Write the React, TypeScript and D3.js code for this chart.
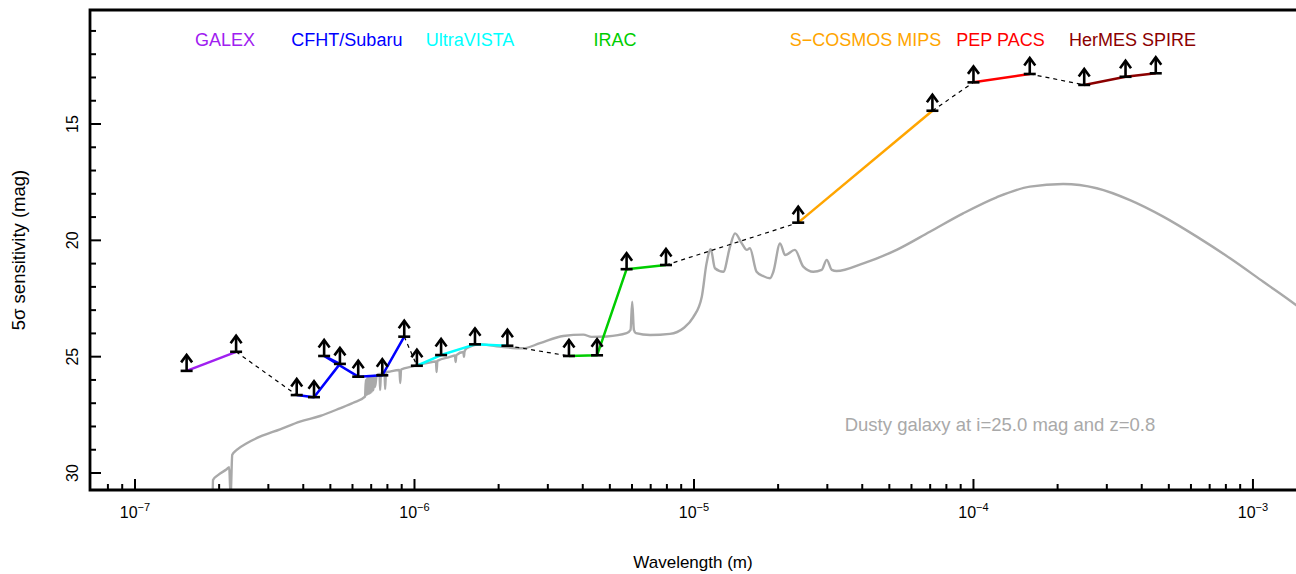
import React from "react";
import * as d3 from "d3";

// Photometric bands: wavelength (m) and 5-sigma limiting magnitude
const bandNames = [
  "FUV", "NUV",
  "u", "B", "V", "g", "r", "i", "z",
  "Y", "J", "H", "Ks",
  "ch1", "ch2", "ch3", "ch4",
  "MIPS24", "MIPS70",
  "PACS100", "PACS160",
  "SPIRE250", "SPIRE350", "SPIRE500",
];
const bandWavelengths = [
  1.53e-7, 2.3e-7,
  3.79e-7, 4.37e-7, 5.41e-7, 4.75e-7, 6.29e-7, 7.67e-7, 9.19e-7,
  1.02e-6, 1.245e-6, 1.646e-6, 2.15e-6,
  3.57e-6, 4.5e-6, 5.74e-6, 7.94e-6,
  2.36e-5, 7.13e-5,
  1.0e-4, 1.59e-4,
  2.49e-4, 3.5e-4, 4.49e-4,
];
const bandMags = [
  25.61, 24.79,
  26.65, 26.74, 25.31, 24.97, 25.86, 25.8, 24.14,
  25.39, 24.93, 24.47, 24.53,
  24.97, 24.94, 21.24, 21.06,
  19.24, 14.43,
  13.21, 12.85,
  13.32, 12.97, 12.82,
];
const bandSurvey = [0, 0, 1, 1, 1, 1, 1, 1, 1, 2, 2, 2, 2, 3, 3, 3, 3, 4, 4, 5, 5, 6, 6, 6];

const surveyNames = [
  "GALEX", "CFHT/Subaru", "UltraVISTA", "IRAC",
  "S\u2212COSMOS MIPS", "PEP PACS", "HerMES SPIRE",
];
const surveyColors = ["#a020f0", "#0000ff", "#00ffff", "#00cd00", "#ffa500", "#ff0000", "#8b0000"];
const surveyLabelWavelengths = [2.1e-7, 5.73e-7, 1.58e-6, 5.22e-6, 4.11e-5, 1.25e-4, 3.71e-4];

// Model SED of a dusty galaxy (log10 wavelength in m, magnitude)
const sedLogWavelength = [
  -6.722, -6.721, -6.702, -6.672, -6.663, -6.658, -6.652, -6.636, -6.6, -6.553,
  -6.481, -6.41, -6.338, -6.267, -6.219, -6.177,
  -6.174, -6.172, -6.17, -6.168, -6.166, -6.164, -6.162, -6.16, -6.158, -6.156,
  -6.154, -6.152, -6.15, -6.147, -6.144, -6.141, -6.135,
  -6.125, -6.123, -6.12, -6.107, -6.105,
  -6.102, -6.088, -6.054, -6.051, -6.048, -6.01, -5.956, -5.923, -5.921, -5.918,
  -5.873, -5.855, -5.853, -5.85, -5.825, -5.823, -5.821, -5.813, -5.766, -5.694,
  -5.611, -5.551, -5.468, -5.396, -5.366, -5.312, -5.241, -5.227, -5.221, -5.215,
  -5.208, -5.157, -5.086, -5.038, -5.003, -4.972, -4.955, -4.94, -4.925, -4.895,
  -4.871, -4.853, -4.829, -4.811, -4.8, -4.776, -4.753, -4.728, -4.716, -4.692,
  -4.674, -4.639, -4.609, -4.573, -4.543, -4.525, -4.507, -4.49, -4.394, -4.275,
  -4.156, -4.037, -3.917, -3.798, -3.679, -3.559, -3.44, -3.321, -3.201, -3.082,
  -2.963, -2.846, -2.796,
];
const sedMag = [
  31.0, 30.3, 30.08, 29.84, 29.75, 31.0, 29.22, 29.01, 28.72, 28.44,
  28.12, 27.79, 27.55, 27.22, 26.98, 26.72,
  26.0, 26.65, 25.92, 26.62, 25.9, 26.6, 25.88, 26.58, 25.87, 26.55,
  25.86, 26.5, 25.85, 26.45, 25.82, 26.3, 25.79,
  25.74, 26.43, 25.72, 25.7, 26.39,
  25.68, 25.64, 25.57, 26.13, 25.55, 25.43, 25.28, 25.21, 25.66, 25.18,
  25.01, 24.95, 25.23, 24.93, 24.8, 25.01, 24.78, 24.64, 24.47, 24.57,
  24.64, 24.42, 24.11, 24.05, 24.15, 24.13, 23.99, 23.85, 22.64, 23.85,
  23.99, 24.07, 24.02, 23.78, 23.31, 22.42, 20.99, 20.38, 21.2, 21.35,
  20.27, 19.7, 20.13, 20.41, 20.34, 21.35, 21.53, 21.63, 21.35, 20.13,
  20.63, 20.41, 21.13, 21.35, 21.27, 20.84, 21.27, 21.32, 20.99, 20.41,
  19.63, 18.84, 18.15, 17.69, 17.58, 17.76, 18.27, 18.98, 19.84, 20.77,
  21.78, 22.78, 23.25,
];
const sedCaption = "Dusty galaxy at i=25.0 mag and z=0.8";

const xMajorExponents = [-8, -7, -6, -5, -4, -3];
const yMajorTicks = [15, 20, 25, 30];
const yMinorTicks = d3.range(11, 31);

const W = 1296;
const H = 574;
const plot = { left: 90, right: 1296, top: 10, bottom: 490 };
const FONT = "'Liberation Sans', Arial, Helvetica, sans-serif";

export default function App() {
  const x = d3
    .scaleLog()
    .domain([Math.pow(10, -7.161), Math.pow(10, -2.846)])
    .range([plot.left, plot.right]);
  const y = d3.scaleLinear().domain([10.1, 30.73]).range([plot.top, plot.bottom]);

  const sed = sedLogWavelength.map((lw, i) => [Math.pow(10, lw), sedMag[i]] as [number, number]);
  const sedPath = d3
    .line<[number, number]>()
    .x((d) => x(d[0]))
    .y((d) => y(d[1]))
    .curve(d3.curveMonotoneX)(sed);

  const bands = bandNames.map((name, i) => ({
    name,
    w: bandWavelengths[i],
    m: bandMags[i],
    s: bandSurvey[i],
  }));

  const segLine = d3
    .line<{ w: number; m: number }>()
    .x((d) => x(d.w))
    .y((d) => y(d.m));

  const groups = surveyNames.map((_, si) => bands.filter((b) => b.s === si));
  const bridges = groups.slice(0, -1).map((g, i) => [g[g.length - 1], groups[i + 1][0]]);

  // minor ticks on the log axis
  const xTicks: { v: number; major: boolean }[] = [];
  xMajorExponents.forEach((e) => {
    for (let k = 1; k <= 9; k++) {
      const v = k * Math.pow(10, e);
      const px = x(v);
      if (px > plot.left + 2 && px <= plot.right) xTicks.push({ v, major: k === 1 });
    }
  });

  const arrowBar = 6;
  const arrowShaft = 16;
  const headW = 5.5;
  const headH = 7.5;

  return (
    <svg
      width={W}
      height={H}
      style={{ position: "absolute", left: 0, top: 0, display: "block", background: "#fff" }}
      fontFamily={FONT}
    >
      <defs>
        <clipPath id="plot-clip">
          <rect x={plot.left} y={plot.top} width={plot.right - plot.left} height={plot.bottom - plot.top} />
        </clipPath>
      </defs>

      <g clipPath="url(#plot-clip)">
        <path d={sedPath || ""} fill="none" stroke="#a9a9a9" strokeWidth={2.4} strokeLinejoin="round" />

        {bridges.map(([a, b], i) => (
          <path key={"br" + i} d={segLine([a, b]) || ""} fill="none" stroke="#000" strokeWidth={1.2} strokeDasharray="4 4" />
        ))}

        {groups.map((g, i) => (
          <path key={"g" + i} d={segLine(g) || ""} fill="none" stroke={surveyColors[i]} strokeWidth={2.5} strokeLinejoin="round" />
        ))}

        {bands.map((b) => {
          const px = x(b.w);
          const py = y(b.m);
          const tip = py - arrowShaft;
          return (
            <g key={b.name} stroke="#000" strokeWidth={2.6} fill="none">
              <line x1={px - arrowBar} x2={px + arrowBar} y1={py} y2={py} />
              <line x1={px} x2={px} y1={py} y2={tip} />
              <path d={`M${px - headW},${tip + headH} L${px},${tip} L${px + headW},${tip + headH}`} strokeLinejoin="miter" />
            </g>
          );
        })}
      </g>

      {surveyNames.map((name, i) => (
        <text key={name} x={x(surveyLabelWavelengths[i])} y={46} textAnchor="middle" fontSize={18} fill={surveyColors[i]}>
          {name}
        </text>
      ))}

      <text x={1000} y={431} textAnchor="middle" fontSize={18.5} fill="#a9a9a9">
        {sedCaption}
      </text>

      {/* y ticks */}
      {yMinorTicks.map((v) => {
        const major = yMajorTicks.includes(v);
        return (
          <line key={"yt" + v} x1={plot.left} x2={plot.left + (major ? 11 : 6)} y1={y(v)} y2={y(v)} stroke="#000" strokeWidth={2} />
        );
      })}
      {yMajorTicks.map((v) => (
        <text key={"yl" + v} transform={`translate(78,${y(v)}) rotate(-90)`} textAnchor="middle" fontSize={16}>
          {v}
        </text>
      ))}

      {/* x ticks */}
      {xTicks.map((t, i) => (
        <line key={"xt" + i} x1={x(t.v)} x2={x(t.v)} y1={plot.bottom} y2={plot.bottom - (t.major ? 11 : 6)} stroke="#000" strokeWidth={2} />
      ))}
      {xMajorExponents
        .filter((e) => x(Math.pow(10, e)) > plot.left)
        .map((e) => (
          <text key={"xl" + e} x={x(Math.pow(10, e))} y={518} textAnchor="middle" fontSize={16}>
            10
            <tspan dy={-7} fontSize={11}>
              {"\u2212" + Math.abs(e)}
            </tspan>
          </text>
        ))}

      {/* frame */}
      <path
        d={`M${plot.right},${plot.top} H${plot.left} V${plot.bottom} H${plot.right}`}
        fill="none"
        stroke="#000"
        strokeWidth={2.8}
        strokeLinejoin="miter"
      />

      <text x={(plot.left + plot.right) / 2} y={568} textAnchor="middle" fontSize={17}>
        Wavelength (m)
      </text>
      <text transform={`translate(25,${(plot.top + plot.bottom) / 2}) rotate(-90)`} textAnchor="middle" fontSize={18.5}>
        5σ sensitivity (mag)
      </text>
    </svg>
  );
}
